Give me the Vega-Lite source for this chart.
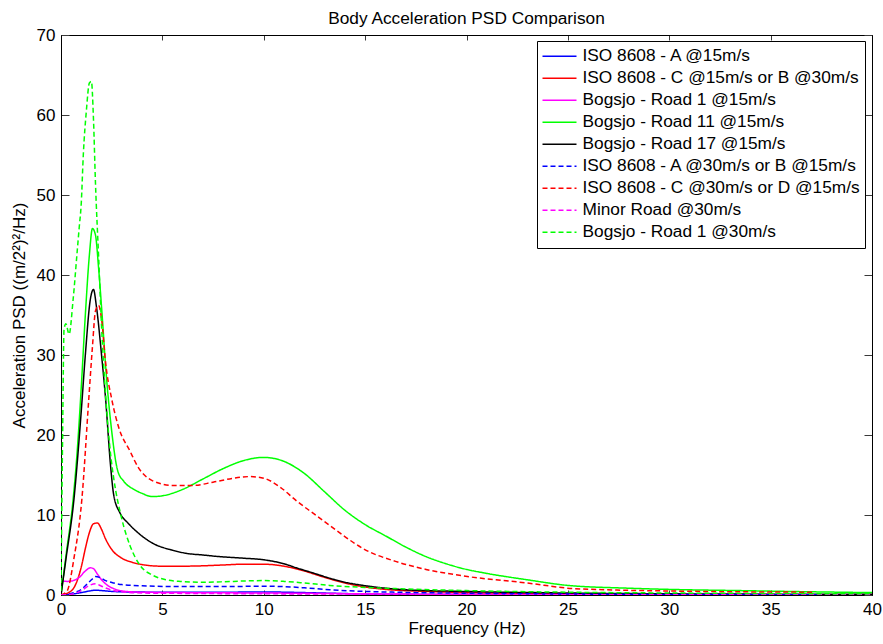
{
  "$schema": "https://vega.github.io/schema/vega-lite/v6.json",
  "width": 811,
  "height": 560,
  "autosize": {"type": "none"},
  "padding": {"left": 61, "top": 35, "right": 11, "bottom": 49},
  "background": "white",
  "title": {"text": "Body Acceleration PSD Comparison", "fontSize": 17.3, "fontWeight": "normal", "offset": -1, "anchor": "middle", "color": "black", "font": "Liberation Sans"},
  "config": {
    "font": "Liberation Sans",
    "view": {"stroke": "black"},
    "axis": {"grid": false, "domainColor": "black", "tickColor": "#3a3a3a", "tickWidth": 1, "zindex": 1, "labelColor": "black", "titleColor": "black", "labelFontSize": 17, "titleFontSize": 17, "titleFontWeight": "normal", "labelFont": "Liberation Sans", "titleFont": "Liberation Sans"},
    "legend": {"orient": "none", "legendX": 476, "legendY": 6, "strokeColor": "black", "fillColor": "white", "padding": 4.5, "labelFontSize": 17.3, "labelColor": "black", "labelFont": "Liberation Sans", "symbolType": "stroke", "symbolSize": 1156, "symbolStrokeWidth": 1.5, "labelOffset": 5, "rowPadding": 0, "clipHeight": 21.6, "cornerRadius": 0, "labelLimit": 400}
  },
  "data": {"values": [
    {"series": "ISO 8608 - A @15m/s", "freq": 0, "psd": 0},
    {"series": "ISO 8608 - A @15m/s", "freq": 0.5, "psd": 0.1},
    {"series": "ISO 8608 - A @15m/s", "freq": 1.0, "psd": 0.3},
    {"series": "ISO 8608 - A @15m/s", "freq": 1.4, "psd": 0.5},
    {"series": "ISO 8608 - A @15m/s", "freq": 1.7, "psd": 0.6},
    {"series": "ISO 8608 - A @15m/s", "freq": 2.0, "psd": 0.55},
    {"series": "ISO 8608 - A @15m/s", "freq": 2.5, "psd": 0.45},
    {"series": "ISO 8608 - A @15m/s", "freq": 3, "psd": 0.4},
    {"series": "ISO 8608 - A @15m/s", "freq": 5, "psd": 0.35},
    {"series": "ISO 8608 - A @15m/s", "freq": 8, "psd": 0.35},
    {"series": "ISO 8608 - A @15m/s", "freq": 10, "psd": 0.38},
    {"series": "ISO 8608 - A @15m/s", "freq": 12, "psd": 0.3},
    {"series": "ISO 8608 - A @15m/s", "freq": 14, "psd": 0.18},
    {"series": "ISO 8608 - A @15m/s", "freq": 16, "psd": 0.1},
    {"series": "ISO 8608 - A @15m/s", "freq": 20, "psd": 0.06},
    {"series": "ISO 8608 - A @15m/s", "freq": 25, "psd": 0.03},
    {"series": "ISO 8608 - A @15m/s", "freq": 30, "psd": 0.02},
    {"series": "ISO 8608 - A @15m/s", "freq": 37.5, "psd": 0.01},

    {"series": "ISO 8608 - C @15m/s or B @30m/s", "freq": 0, "psd": 0},
    {"series": "ISO 8608 - C @15m/s or B @30m/s", "freq": 0.5, "psd": 0.5},
    {"series": "ISO 8608 - C @15m/s or B @30m/s", "freq": 0.8, "psd": 1.8},
    {"series": "ISO 8608 - C @15m/s or B @30m/s", "freq": 1.0, "psd": 3.5},
    {"series": "ISO 8608 - C @15m/s or B @30m/s", "freq": 1.2, "psd": 5.8},
    {"series": "ISO 8608 - C @15m/s or B @30m/s", "freq": 1.4, "psd": 7.8},
    {"series": "ISO 8608 - C @15m/s or B @30m/s", "freq": 1.6, "psd": 8.9},
    {"series": "ISO 8608 - C @15m/s or B @30m/s", "freq": 1.8, "psd": 9.0},
    {"series": "ISO 8608 - C @15m/s or B @30m/s", "freq": 2.0, "psd": 8.2},
    {"series": "ISO 8608 - C @15m/s or B @30m/s", "freq": 2.2, "psd": 7.0},
    {"series": "ISO 8608 - C @15m/s or B @30m/s", "freq": 2.5, "psd": 5.7},
    {"series": "ISO 8608 - C @15m/s or B @30m/s", "freq": 3, "psd": 4.6},
    {"series": "ISO 8608 - C @15m/s or B @30m/s", "freq": 3.5, "psd": 4.1},
    {"series": "ISO 8608 - C @15m/s or B @30m/s", "freq": 4, "psd": 3.8},
    {"series": "ISO 8608 - C @15m/s or B @30m/s", "freq": 5, "psd": 3.6},
    {"series": "ISO 8608 - C @15m/s or B @30m/s", "freq": 6, "psd": 3.6},
    {"series": "ISO 8608 - C @15m/s or B @30m/s", "freq": 7, "psd": 3.65},
    {"series": "ISO 8608 - C @15m/s or B @30m/s", "freq": 8, "psd": 3.75},
    {"series": "ISO 8608 - C @15m/s or B @30m/s", "freq": 9, "psd": 3.85},
    {"series": "ISO 8608 - C @15m/s or B @30m/s", "freq": 10, "psd": 3.85},
    {"series": "ISO 8608 - C @15m/s or B @30m/s", "freq": 11, "psd": 3.6},
    {"series": "ISO 8608 - C @15m/s or B @30m/s", "freq": 12, "psd": 3.0},
    {"series": "ISO 8608 - C @15m/s or B @30m/s", "freq": 13, "psd": 2.2},
    {"series": "ISO 8608 - C @15m/s or B @30m/s", "freq": 14, "psd": 1.5},
    {"series": "ISO 8608 - C @15m/s or B @30m/s", "freq": 15, "psd": 1.0},
    {"series": "ISO 8608 - C @15m/s or B @30m/s", "freq": 16, "psd": 0.7},
    {"series": "ISO 8608 - C @15m/s or B @30m/s", "freq": 18, "psd": 0.45},
    {"series": "ISO 8608 - C @15m/s or B @30m/s", "freq": 20, "psd": 0.3},
    {"series": "ISO 8608 - C @15m/s or B @30m/s", "freq": 25, "psd": 0.15},
    {"series": "ISO 8608 - C @15m/s or B @30m/s", "freq": 30, "psd": 0.08},
    {"series": "ISO 8608 - C @15m/s or B @30m/s", "freq": 37.5, "psd": 0.04},

    {"series": "Bogsjo - Road 1 @15m/s", "freq": 0, "psd": 1.8},
    {"series": "Bogsjo - Road 1 @15m/s", "freq": 0.3, "psd": 1.7},
    {"series": "Bogsjo - Road 1 @15m/s", "freq": 0.6, "psd": 1.8},
    {"series": "Bogsjo - Road 1 @15m/s", "freq": 0.9, "psd": 2.2},
    {"series": "Bogsjo - Road 1 @15m/s", "freq": 1.2, "psd": 3.0},
    {"series": "Bogsjo - Road 1 @15m/s", "freq": 1.45, "psd": 3.4},
    {"series": "Bogsjo - Road 1 @15m/s", "freq": 1.6, "psd": 3.3},
    {"series": "Bogsjo - Road 1 @15m/s", "freq": 1.8, "psd": 2.6},
    {"series": "Bogsjo - Road 1 @15m/s", "freq": 2.0, "psd": 1.9},
    {"series": "Bogsjo - Road 1 @15m/s", "freq": 2.3, "psd": 1.2},
    {"series": "Bogsjo - Road 1 @15m/s", "freq": 2.7, "psd": 0.7},
    {"series": "Bogsjo - Road 1 @15m/s", "freq": 3.2, "psd": 0.45},
    {"series": "Bogsjo - Road 1 @15m/s", "freq": 4, "psd": 0.35},
    {"series": "Bogsjo - Road 1 @15m/s", "freq": 6, "psd": 0.3},
    {"series": "Bogsjo - Road 1 @15m/s", "freq": 10, "psd": 0.25},
    {"series": "Bogsjo - Road 1 @15m/s", "freq": 15, "psd": 0.15},
    {"series": "Bogsjo - Road 1 @15m/s", "freq": 20, "psd": 0.08},
    {"series": "Bogsjo - Road 1 @15m/s", "freq": 30, "psd": 0.05},
    {"series": "Bogsjo - Road 1 @15m/s", "freq": 40, "psd": 0.03},

    {"series": "Bogsjo - Road 11 @15m/s", "freq": 0, "psd": 0},
    {"series": "Bogsjo - Road 11 @15m/s", "freq": 0.25, "psd": 5},
    {"series": "Bogsjo - Road 11 @15m/s", "freq": 0.6, "psd": 12},
    {"series": "Bogsjo - Road 11 @15m/s", "freq": 0.8, "psd": 18},
    {"series": "Bogsjo - Road 11 @15m/s", "freq": 1.0, "psd": 26},
    {"series": "Bogsjo - Road 11 @15m/s", "freq": 1.2, "psd": 35},
    {"series": "Bogsjo - Road 11 @15m/s", "freq": 1.4, "psd": 42.5},
    {"series": "Bogsjo - Road 11 @15m/s", "freq": 1.55, "psd": 45.8},
    {"series": "Bogsjo - Road 11 @15m/s", "freq": 1.7, "psd": 45},
    {"series": "Bogsjo - Road 11 @15m/s", "freq": 1.85, "psd": 41},
    {"series": "Bogsjo - Road 11 @15m/s", "freq": 2.0, "psd": 36},
    {"series": "Bogsjo - Road 11 @15m/s", "freq": 2.25, "psd": 27},
    {"series": "Bogsjo - Road 11 @15m/s", "freq": 2.5, "psd": 20.5},
    {"series": "Bogsjo - Road 11 @15m/s", "freq": 2.8, "psd": 15.5},
    {"series": "Bogsjo - Road 11 @15m/s", "freq": 3.1, "psd": 14.2},
    {"series": "Bogsjo - Road 11 @15m/s", "freq": 3.6, "psd": 13.2},
    {"series": "Bogsjo - Road 11 @15m/s", "freq": 4.0, "psd": 12.7},
    {"series": "Bogsjo - Road 11 @15m/s", "freq": 4.5, "psd": 12.3},
    {"series": "Bogsjo - Road 11 @15m/s", "freq": 5, "psd": 12.4},
    {"series": "Bogsjo - Road 11 @15m/s", "freq": 6, "psd": 13.2},
    {"series": "Bogsjo - Road 11 @15m/s", "freq": 7, "psd": 14.5},
    {"series": "Bogsjo - Road 11 @15m/s", "freq": 8, "psd": 15.8},
    {"series": "Bogsjo - Road 11 @15m/s", "freq": 9, "psd": 16.8},
    {"series": "Bogsjo - Road 11 @15m/s", "freq": 10, "psd": 17.2},
    {"series": "Bogsjo - Road 11 @15m/s", "freq": 11, "psd": 16.7},
    {"series": "Bogsjo - Road 11 @15m/s", "freq": 12, "psd": 15.2},
    {"series": "Bogsjo - Road 11 @15m/s", "freq": 13, "psd": 12.9},
    {"series": "Bogsjo - Road 11 @15m/s", "freq": 14, "psd": 10.6},
    {"series": "Bogsjo - Road 11 @15m/s", "freq": 15, "psd": 8.8},
    {"series": "Bogsjo - Road 11 @15m/s", "freq": 16, "psd": 7.4},
    {"series": "Bogsjo - Road 11 @15m/s", "freq": 17, "psd": 6.0},
    {"series": "Bogsjo - Road 11 @15m/s", "freq": 18, "psd": 4.8},
    {"series": "Bogsjo - Road 11 @15m/s", "freq": 19, "psd": 3.9},
    {"series": "Bogsjo - Road 11 @15m/s", "freq": 20, "psd": 3.2},
    {"series": "Bogsjo - Road 11 @15m/s", "freq": 21, "psd": 2.7},
    {"series": "Bogsjo - Road 11 @15m/s", "freq": 23, "psd": 1.9},
    {"series": "Bogsjo - Road 11 @15m/s", "freq": 25, "psd": 1.2},
    {"series": "Bogsjo - Road 11 @15m/s", "freq": 28, "psd": 0.85},
    {"series": "Bogsjo - Road 11 @15m/s", "freq": 30, "psd": 0.7},
    {"series": "Bogsjo - Road 11 @15m/s", "freq": 33.5, "psd": 0.55},
    {"series": "Bogsjo - Road 11 @15m/s", "freq": 37, "psd": 0.4},
    {"series": "Bogsjo - Road 11 @15m/s", "freq": 40, "psd": 0.3},

    {"series": "Bogsjo - Road 17 @15m/s", "freq": 0, "psd": 0},
    {"series": "Bogsjo - Road 17 @15m/s", "freq": 0.25, "psd": 4.6},
    {"series": "Bogsjo - Road 17 @15m/s", "freq": 0.64, "psd": 12},
    {"series": "Bogsjo - Road 17 @15m/s", "freq": 1.0, "psd": 23},
    {"series": "Bogsjo - Road 17 @15m/s", "freq": 1.2, "psd": 30},
    {"series": "Bogsjo - Road 17 @15m/s", "freq": 1.45, "psd": 37},
    {"series": "Bogsjo - Road 17 @15m/s", "freq": 1.6, "psd": 38.2},
    {"series": "Bogsjo - Road 17 @15m/s", "freq": 1.75, "psd": 36},
    {"series": "Bogsjo - Road 17 @15m/s", "freq": 2.0, "psd": 30},
    {"series": "Bogsjo - Road 17 @15m/s", "freq": 2.2, "psd": 24.5},
    {"series": "Bogsjo - Road 17 @15m/s", "freq": 2.45, "psd": 16},
    {"series": "Bogsjo - Road 17 @15m/s", "freq": 2.6, "psd": 12.5},
    {"series": "Bogsjo - Road 17 @15m/s", "freq": 2.9, "psd": 10.3},
    {"series": "Bogsjo - Road 17 @15m/s", "freq": 3.3, "psd": 9},
    {"series": "Bogsjo - Road 17 @15m/s", "freq": 3.7, "psd": 8},
    {"series": "Bogsjo - Road 17 @15m/s", "freq": 4.5, "psd": 6.5},
    {"series": "Bogsjo - Road 17 @15m/s", "freq": 5.5, "psd": 5.6},
    {"series": "Bogsjo - Road 17 @15m/s", "freq": 6.2, "psd": 5.2},
    {"series": "Bogsjo - Road 17 @15m/s", "freq": 7, "psd": 5.0},
    {"series": "Bogsjo - Road 17 @15m/s", "freq": 7.8, "psd": 4.8},
    {"series": "Bogsjo - Road 17 @15m/s", "freq": 9, "psd": 4.6},
    {"series": "Bogsjo - Road 17 @15m/s", "freq": 10, "psd": 4.4},
    {"series": "Bogsjo - Road 17 @15m/s", "freq": 11, "psd": 3.9},
    {"series": "Bogsjo - Road 17 @15m/s", "freq": 11.6, "psd": 3.4},
    {"series": "Bogsjo - Road 17 @15m/s", "freq": 12.5, "psd": 2.7},
    {"series": "Bogsjo - Road 17 @15m/s", "freq": 13.25, "psd": 2.1},
    {"series": "Bogsjo - Road 17 @15m/s", "freq": 14, "psd": 1.6},
    {"series": "Bogsjo - Road 17 @15m/s", "freq": 14.9, "psd": 1.2},
    {"series": "Bogsjo - Road 17 @15m/s", "freq": 16, "psd": 0.85},
    {"series": "Bogsjo - Road 17 @15m/s", "freq": 17, "psd": 0.65},
    {"series": "Bogsjo - Road 17 @15m/s", "freq": 19.8, "psd": 0.45},
    {"series": "Bogsjo - Road 17 @15m/s", "freq": 25, "psd": 0.25},
    {"series": "Bogsjo - Road 17 @15m/s", "freq": 30, "psd": 0.15},
    {"series": "Bogsjo - Road 17 @15m/s", "freq": 40, "psd": 0.08},

    {"series": "ISO 8608 - A @30m/s or B @15m/s", "freq": 0, "psd": 0},
    {"series": "ISO 8608 - A @30m/s or B @15m/s", "freq": 0.5, "psd": 0.2},
    {"series": "ISO 8608 - A @30m/s or B @15m/s", "freq": 1.0, "psd": 0.7},
    {"series": "ISO 8608 - A @30m/s or B @15m/s", "freq": 1.3, "psd": 1.4},
    {"series": "ISO 8608 - A @30m/s or B @15m/s", "freq": 1.5, "psd": 1.9},
    {"series": "ISO 8608 - A @30m/s or B @15m/s", "freq": 1.7, "psd": 2.3},
    {"series": "ISO 8608 - A @30m/s or B @15m/s", "freq": 1.9, "psd": 2.2},
    {"series": "ISO 8608 - A @30m/s or B @15m/s", "freq": 2.2, "psd": 1.8},
    {"series": "ISO 8608 - A @30m/s or B @15m/s", "freq": 2.6, "psd": 1.5},
    {"series": "ISO 8608 - A @30m/s or B @15m/s", "freq": 3, "psd": 1.3},
    {"series": "ISO 8608 - A @30m/s or B @15m/s", "freq": 4, "psd": 1.15},
    {"series": "ISO 8608 - A @30m/s or B @15m/s", "freq": 6, "psd": 1.05},
    {"series": "ISO 8608 - A @30m/s or B @15m/s", "freq": 8, "psd": 1.05},
    {"series": "ISO 8608 - A @30m/s or B @15m/s", "freq": 10, "psd": 1.1},
    {"series": "ISO 8608 - A @30m/s or B @15m/s", "freq": 11, "psd": 1.05},
    {"series": "ISO 8608 - A @30m/s or B @15m/s", "freq": 12, "psd": 0.9},
    {"series": "ISO 8608 - A @30m/s or B @15m/s", "freq": 13.25, "psd": 0.65},
    {"series": "ISO 8608 - A @30m/s or B @15m/s", "freq": 15, "psd": 0.45},
    {"series": "ISO 8608 - A @30m/s or B @15m/s", "freq": 16.5, "psd": 0.35},
    {"series": "ISO 8608 - A @30m/s or B @15m/s", "freq": 20, "psd": 0.22},
    {"series": "ISO 8608 - A @30m/s or B @15m/s", "freq": 25, "psd": 0.12},
    {"series": "ISO 8608 - A @30m/s or B @15m/s", "freq": 30, "psd": 0.07},
    {"series": "ISO 8608 - A @30m/s or B @15m/s", "freq": 37.5, "psd": 0.04},

    {"series": "ISO 8608 - C @30m/s or D @15m/s", "freq": 0, "psd": 0},
    {"series": "ISO 8608 - C @30m/s or D @15m/s", "freq": 0.3, "psd": 0.5},
    {"series": "ISO 8608 - C @30m/s or D @15m/s", "freq": 0.64, "psd": 4.6},
    {"series": "ISO 8608 - C @30m/s or D @15m/s", "freq": 1.03, "psd": 12},
    {"series": "ISO 8608 - C @30m/s or D @15m/s", "freq": 1.37, "psd": 24.5},
    {"series": "ISO 8608 - C @30m/s or D @15m/s", "freq": 1.55, "psd": 31},
    {"series": "ISO 8608 - C @30m/s or D @15m/s", "freq": 1.7, "psd": 35.5},
    {"series": "ISO 8608 - C @30m/s or D @15m/s", "freq": 1.85, "psd": 36.2},
    {"series": "ISO 8608 - C @30m/s or D @15m/s", "freq": 2.0, "psd": 34.5},
    {"series": "ISO 8608 - C @30m/s or D @15m/s", "freq": 2.2, "psd": 29},
    {"series": "ISO 8608 - C @30m/s or D @15m/s", "freq": 2.5, "psd": 24.5},
    {"series": "ISO 8608 - C @30m/s or D @15m/s", "freq": 2.84, "psd": 21},
    {"series": "ISO 8608 - C @30m/s or D @15m/s", "freq": 3.4, "psd": 18},
    {"series": "ISO 8608 - C @30m/s or D @15m/s", "freq": 3.8, "psd": 16},
    {"series": "ISO 8608 - C @30m/s or D @15m/s", "freq": 4.5, "psd": 14.3},
    {"series": "ISO 8608 - C @30m/s or D @15m/s", "freq": 5.5, "psd": 13.7},
    {"series": "ISO 8608 - C @30m/s or D @15m/s", "freq": 6.5, "psd": 13.7},
    {"series": "ISO 8608 - C @30m/s or D @15m/s", "freq": 7.5, "psd": 14.1},
    {"series": "ISO 8608 - C @30m/s or D @15m/s", "freq": 8.5, "psd": 14.6},
    {"series": "ISO 8608 - C @30m/s or D @15m/s", "freq": 9.3, "psd": 14.8},
    {"series": "ISO 8608 - C @30m/s or D @15m/s", "freq": 10, "psd": 14.6},
    {"series": "ISO 8608 - C @30m/s or D @15m/s", "freq": 10.8, "psd": 13.5},
    {"series": "ISO 8608 - C @30m/s or D @15m/s", "freq": 11.6, "psd": 11.8},
    {"series": "ISO 8608 - C @30m/s or D @15m/s", "freq": 12.5, "psd": 10.1},
    {"series": "ISO 8608 - C @30m/s or D @15m/s", "freq": 13.25, "psd": 8.7},
    {"series": "ISO 8608 - C @30m/s or D @15m/s", "freq": 14, "psd": 7.3},
    {"series": "ISO 8608 - C @30m/s or D @15m/s", "freq": 14.9, "psd": 5.8},
    {"series": "ISO 8608 - C @30m/s or D @15m/s", "freq": 16.5, "psd": 4.2},
    {"series": "ISO 8608 - C @30m/s or D @15m/s", "freq": 18, "psd": 3.2},
    {"series": "ISO 8608 - C @30m/s or D @15m/s", "freq": 19.8, "psd": 2.4},
    {"series": "ISO 8608 - C @30m/s or D @15m/s", "freq": 23, "psd": 1.5},
    {"series": "ISO 8608 - C @30m/s or D @15m/s", "freq": 25.3, "psd": 0.8},
    {"series": "ISO 8608 - C @30m/s or D @15m/s", "freq": 30, "psd": 0.5},
    {"series": "ISO 8608 - C @30m/s or D @15m/s", "freq": 37.2, "psd": 0.35},

    {"series": "Minor Road @30m/s", "freq": 0, "psd": 0},
    {"series": "Minor Road @30m/s", "freq": 0.5, "psd": 0.1},
    {"series": "Minor Road @30m/s", "freq": 0.8, "psd": 0.3},
    {"series": "Minor Road @30m/s", "freq": 1.1, "psd": 0.7},
    {"series": "Minor Road @30m/s", "freq": 1.4, "psd": 1.2},
    {"series": "Minor Road @30m/s", "freq": 1.7, "psd": 1.4},
    {"series": "Minor Road @30m/s", "freq": 2.0, "psd": 1.1},
    {"series": "Minor Road @30m/s", "freq": 2.4, "psd": 0.7},
    {"series": "Minor Road @30m/s", "freq": 3, "psd": 0.4},
    {"series": "Minor Road @30m/s", "freq": 4, "psd": 0.25},
    {"series": "Minor Road @30m/s", "freq": 6, "psd": 0.2},
    {"series": "Minor Road @30m/s", "freq": 10, "psd": 0.15},
    {"series": "Minor Road @30m/s", "freq": 15, "psd": 0.1},
    {"series": "Minor Road @30m/s", "freq": 20, "psd": 0.05},
    {"series": "Minor Road @30m/s", "freq": 30, "psd": 0.03},
    {"series": "Minor Road @30m/s", "freq": 40, "psd": 0.02},

    {"series": "Bogsjo - Road 1 @30m/s", "freq": 0, "psd": 0.5},
    {"series": "Bogsjo - Road 1 @30m/s", "freq": 0.08, "psd": 20},
    {"series": "Bogsjo - Road 1 @30m/s", "freq": 0.15, "psd": 33.2},
    {"series": "Bogsjo - Road 1 @30m/s", "freq": 0.24, "psd": 33.9},
    {"series": "Bogsjo - Road 1 @30m/s", "freq": 0.4, "psd": 32.6},
    {"series": "Bogsjo - Road 1 @30m/s", "freq": 0.6, "psd": 37},
    {"series": "Bogsjo - Road 1 @30m/s", "freq": 0.8, "psd": 43},
    {"series": "Bogsjo - Road 1 @30m/s", "freq": 0.9, "psd": 46},
    {"series": "Bogsjo - Road 1 @30m/s", "freq": 1.0, "psd": 49},
    {"series": "Bogsjo - Road 1 @30m/s", "freq": 1.1, "psd": 55},
    {"series": "Bogsjo - Road 1 @30m/s", "freq": 1.25, "psd": 60.5},
    {"series": "Bogsjo - Road 1 @30m/s", "freq": 1.4, "psd": 64},
    {"series": "Bogsjo - Road 1 @30m/s", "freq": 1.5, "psd": 64.2},
    {"series": "Bogsjo - Road 1 @30m/s", "freq": 1.6, "psd": 59.6},
    {"series": "Bogsjo - Road 1 @30m/s", "freq": 1.7, "psd": 51.5},
    {"series": "Bogsjo - Road 1 @30m/s", "freq": 1.86, "psd": 42},
    {"series": "Bogsjo - Road 1 @30m/s", "freq": 2.0, "psd": 33.6},
    {"series": "Bogsjo - Road 1 @30m/s", "freq": 2.2, "psd": 25},
    {"series": "Bogsjo - Road 1 @30m/s", "freq": 2.45, "psd": 17.5},
    {"series": "Bogsjo - Road 1 @30m/s", "freq": 2.6, "psd": 14.6},
    {"series": "Bogsjo - Road 1 @30m/s", "freq": 3.0, "psd": 9.5},
    {"series": "Bogsjo - Road 1 @30m/s", "freq": 3.4, "psd": 6.2},
    {"series": "Bogsjo - Road 1 @30m/s", "freq": 3.9, "psd": 3.7},
    {"series": "Bogsjo - Road 1 @30m/s", "freq": 4.5, "psd": 2.5},
    {"series": "Bogsjo - Road 1 @30m/s", "freq": 5.2, "psd": 1.9},
    {"series": "Bogsjo - Road 1 @30m/s", "freq": 5.9, "psd": 1.7},
    {"series": "Bogsjo - Road 1 @30m/s", "freq": 7, "psd": 1.6},
    {"series": "Bogsjo - Road 1 @30m/s", "freq": 8, "psd": 1.65},
    {"series": "Bogsjo - Road 1 @30m/s", "freq": 9, "psd": 1.75},
    {"series": "Bogsjo - Road 1 @30m/s", "freq": 10, "psd": 1.8},
    {"series": "Bogsjo - Road 1 @30m/s", "freq": 11, "psd": 1.7},
    {"series": "Bogsjo - Road 1 @30m/s", "freq": 12, "psd": 1.5},
    {"series": "Bogsjo - Road 1 @30m/s", "freq": 13.25, "psd": 1.2},
    {"series": "Bogsjo - Road 1 @30m/s", "freq": 15, "psd": 0.95},
    {"series": "Bogsjo - Road 1 @30m/s", "freq": 16.5, "psd": 0.8},
    {"series": "Bogsjo - Road 1 @30m/s", "freq": 20, "psd": 0.55},
    {"series": "Bogsjo - Road 1 @30m/s", "freq": 25, "psd": 0.35},
    {"series": "Bogsjo - Road 1 @30m/s", "freq": 30, "psd": 0.25},
    {"series": "Bogsjo - Road 1 @30m/s", "freq": 40, "psd": 0.15}
  ]},
  "layer": [
    {
      "mark": {"type": "line", "strokeWidth": 1.5, "interpolate": "monotone", "clip": true},
      "encoding": {
        "x": {"field": "freq", "type": "quantitative", "scale": {"domain": [0, 40], "nice": false, "zero": false},
              "axis": {"orient": "bottom", "title": "Frequency (Hz)", "values": [0, 5, 10, 15, 20, 25, 30, 35, 40], "tickSize": -5, "labelPadding": 11, "titlePadding": 3, "labelFlush": false}},
        "y": {"field": "psd", "type": "quantitative", "scale": {"domain": [0, 70], "nice": false},
              "axis": {"orient": "left", "title": "Acceleration PSD ((m/2²)²/Hz)", "values": [0, 10, 20, 30, 40, 50, 60, 70], "tickSize": -8, "labelPadding": 14, "titlePadding": 8, "labelFlush": false}},
        "color": {"field": "series", "type": "nominal", "title": null,
                  "scale": {"domain": ["ISO 8608 - A @15m/s", "ISO 8608 - C @15m/s or B @30m/s", "Bogsjo - Road 1 @15m/s", "Bogsjo - Road 11 @15m/s", "Bogsjo - Road 17 @15m/s", "ISO 8608 - A @30m/s or B @15m/s", "ISO 8608 - C @30m/s or D @15m/s", "Minor Road @30m/s", "Bogsjo - Road 1 @30m/s"],
                            "range": ["#0000ff", "#ff0000", "#ff00ff", "#00ff00", "#000000", "#0000ff", "#ff0000", "#ff00ff", "#00ff00"]}},
        "strokeDash": {"field": "series", "type": "nominal", "title": null,
                  "scale": {"domain": ["ISO 8608 - A @15m/s", "ISO 8608 - C @15m/s or B @30m/s", "Bogsjo - Road 1 @15m/s", "Bogsjo - Road 11 @15m/s", "Bogsjo - Road 17 @15m/s", "ISO 8608 - A @30m/s or B @15m/s", "ISO 8608 - C @30m/s or D @15m/s", "Minor Road @30m/s", "Bogsjo - Road 1 @30m/s"],
                            "range": [[1, 0], [1, 0], [1, 0], [1, 0], [1, 0], [5, 3], [5, 3], [5, 3], [5, 3]]}}
      }
    },
    {
      "mark": {"type": "line", "opacity": 0},
      "encoding": {
        "x": {"field": "freq", "type": "quantitative", "axis": {"orient": "top", "title": null, "labels": false, "values": [0, 5, 10, 15, 20, 25, 30, 35, 40], "tickSize": -5}},
        "y": {"field": "psd", "type": "quantitative", "axis": {"orient": "right", "title": null, "labels": false, "values": [0, 10, 20, 30, 40, 50, 60, 70], "tickSize": -8}}
      }
    }
  ],
  "resolve": {"axis": {"x": "independent", "y": "independent"}}
}
